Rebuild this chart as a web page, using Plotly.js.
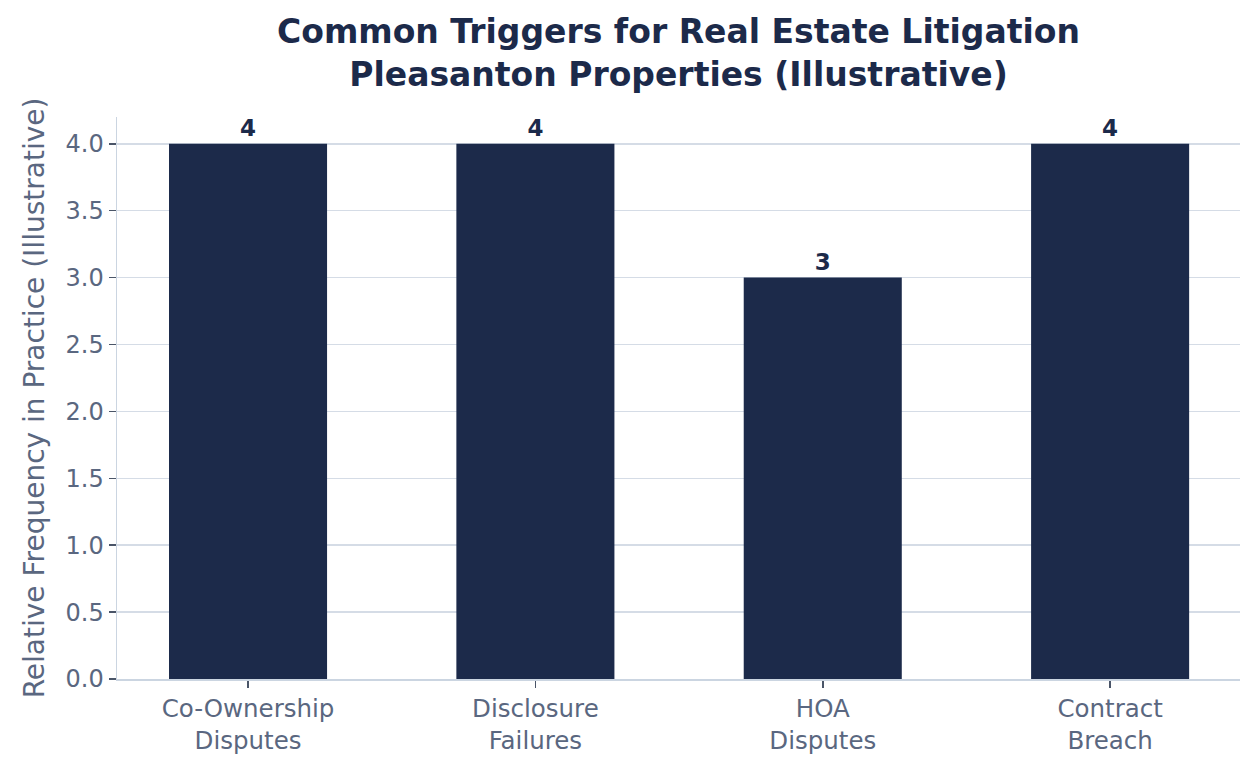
<!DOCTYPE html>
<html>
<head>
<meta charset="utf-8">
<script src="https://cdn.plot.ly/plotly-3.0.1.min.js"></script>
<style>
  html, body { margin: 0; padding: 0; background: #ffffff; }
  #chart { width: 1259px; height: 770px; }
</style>
</head>
<body>
<div id="chart"></div>
<script>
var CHART = document.getElementById('chart');

var categories = ['Co-Ownership<br>Disputes', 'Disclosure<br>Failures', 'HOA<br>Disputes', 'Contract<br>Breach'];
var frequency = [4, 4, 3, 4];
var yTicks = [0, 0.5, 1, 1.5, 2, 2.5, 3, 3.5, 4];
var yTickText = ['0.0', '0.5', '1.0', '1.5', '2.0', '2.5', '3.0', '3.5', '4.0'];

var navy = '#1c2a4a';
var gray = '#5a6780';

var bars = {
    x: [0, 1, 2, 3],
    y: frequency,
    type: 'bar',
    width: 0.55,
    marker: { color: navy },
    text: frequency.map(String),
    textposition: 'outside',
    cliponaxis: false,
    textfont: { family: 'DejaVu Sans', size: 23, color: navy, weight: 'bold' },
    hoverinfo: 'skip'
};

var layout = {
    width: 1259,
    height: 770,
    paper_bgcolor: '#ffffff',
    plot_bgcolor: '#ffffff',
    font: { family: 'DejaVu Sans', color: gray },
    margin: { l: 117, r: 19, t: 117, b: 91 },
    showlegend: false,
    title: {
        text: '<b>Common Triggers for Real Estate Litigation<br>Pleasanton Properties (Illustrative)</b>',
        font: { family: 'DejaVu Sans', size: 33, color: navy },
        x: 0.5,
        xanchor: 'center',
        xref: 'paper',
        y: 0.944,
        yref: 'container',
        yanchor: 'middle'
    },
    xaxis: {
        range: [-0.456, 3.452],
        tickvals: [0, 1, 2, 3],
        ticktext: categories,
        ticks: 'outside',
        ticklen: 7,
        tickwidth: 1.5,
        tickcolor: '#4a5568',
        tickfont: { size: 24.5, color: gray },
        showgrid: false,
        zeroline: false,
        showline: true,
        linecolor: '#cbd5e1',
        linewidth: 1.5
    },
    yaxis: {
        range: [0, 4.2],
        tickvals: yTicks,
        ticktext: yTickText,
        ticks: 'outside',
        ticklen: 7,
        tickwidth: 1.5,
        tickcolor: '#4a5568',
        tickfont: { size: 24, color: gray },
        showgrid: true,
        gridcolor: '#d5dce6',
        gridwidth: 1.5,
        zeroline: false,
        showline: true,
        linecolor: '#cbd5e1',
        linewidth: 1.5,
        title: {
            text: 'Relative Frequency in Practice (Illustrative)',
            font: { size: 28, color: gray },
            standoff: 12
        }
    }
};

Plotly.newPlot(CHART, [bars], layout, { displayModeBar: false, staticPlot: true });
</script>
</body>
</html>
